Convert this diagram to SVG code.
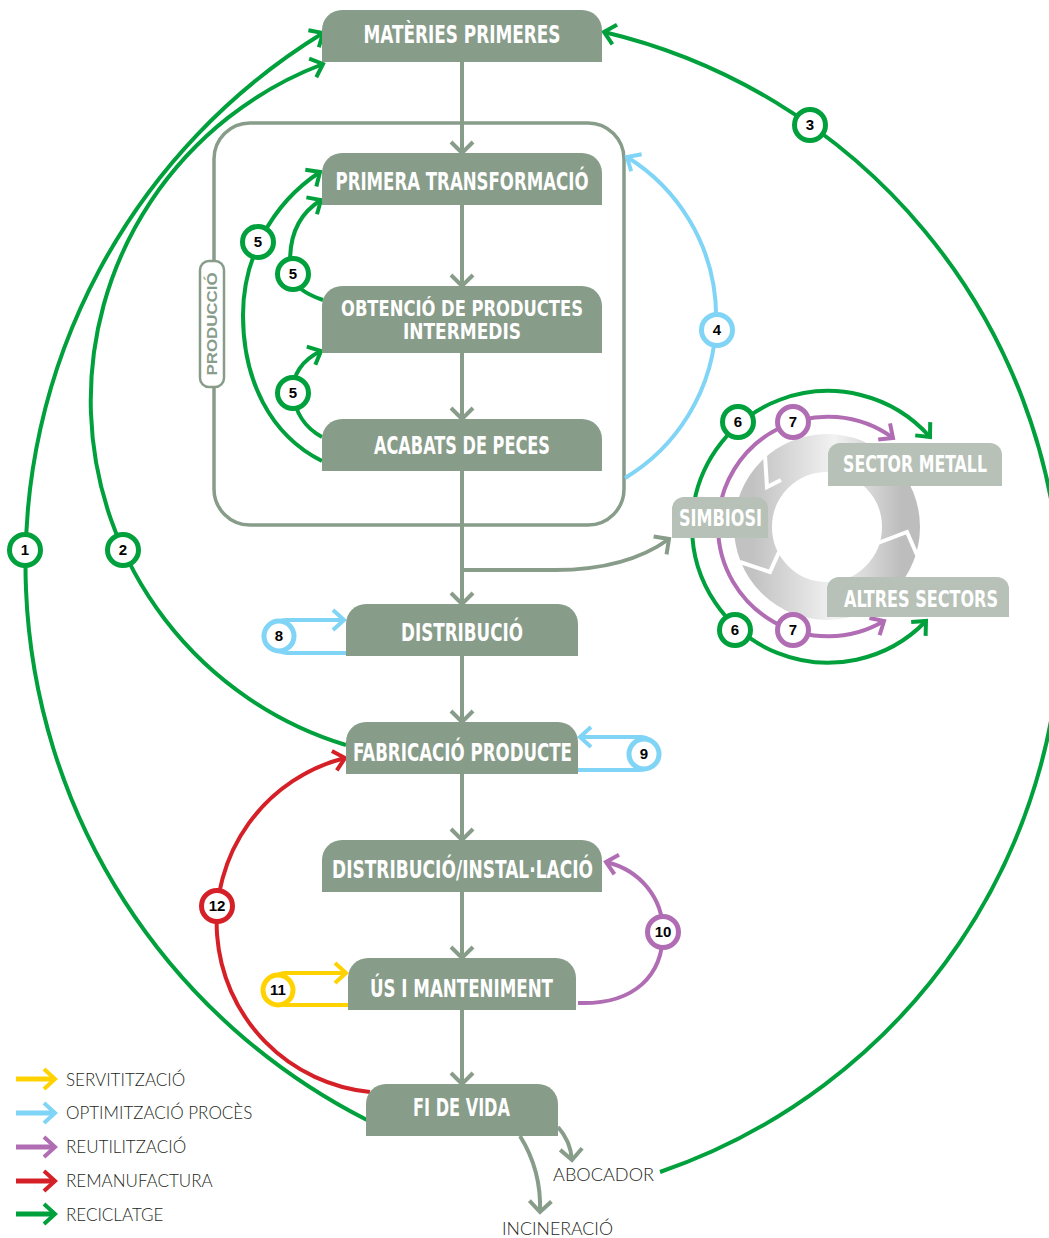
<svg xmlns="http://www.w3.org/2000/svg" width="1049" height="1238" viewBox="0 0 1049 1238">
<style>
.node{fill:#889c8a}
.lnode{fill:#b7c1b7}
.nt{fill:#fff;font-family:"Liberation Sans Narrow","DejaVu Sans Condensed","Liberation Sans",sans-serif;font-weight:bold;font-size:25px;text-anchor:middle}
.lt{font-size:23px}
.st{font-size:21px}
.flow{fill:none;stroke:#889c8a;stroke-width:4}
.g{fill:none;stroke:#00a03c;stroke-width:4}
.b{fill:none;stroke:#80d4f6;stroke-width:4}
.p{fill:none;stroke:#b06db3;stroke-width:4}
.r{fill:none;stroke:#d52027;stroke-width:4}
.y{fill:none;stroke:#ffd200;stroke-width:4}
.bd{fill:#fff;stroke-width:5}
.bn{font-family:"Liberation Sans",Arial,sans-serif;font-weight:bold;font-size:15px;fill:#000;text-anchor:middle}
.tx{font-family:Lato,"Liberation Sans",sans-serif;font-weight:300;font-size:17px;fill:#231f20}
</style>
<defs>
<marker id="mf" viewBox="-15 -15 30 30" markerWidth="30" markerHeight="30" refX="0" refY="0" orient="auto" markerUnits="userSpaceOnUse"><path d="M-11,-11 L0,0 L-11,11" fill="none" stroke="#889c8a" stroke-width="4"/></marker>
<marker id="mg" viewBox="-15 -15 30 30" markerWidth="30" markerHeight="30" refX="0" refY="0" orient="auto" markerUnits="userSpaceOnUse"><path d="M-11,-10 L0,0 L-11,10" fill="none" stroke="#00a03c" stroke-width="4"/></marker>
<marker id="mb" viewBox="-15 -15 30 30" markerWidth="30" markerHeight="30" refX="0" refY="0" orient="auto" markerUnits="userSpaceOnUse"><path d="M-11,-10 L0,0 L-11,10" fill="none" stroke="#80d4f6" stroke-width="4"/></marker>
<marker id="mp" viewBox="-15 -15 30 30" markerWidth="30" markerHeight="30" refX="0" refY="0" orient="auto" markerUnits="userSpaceOnUse"><path d="M-11,-10 L0,0 L-11,10" fill="none" stroke="#b06db3" stroke-width="4"/></marker>
<marker id="mr" viewBox="-15 -15 30 30" markerWidth="30" markerHeight="30" refX="0" refY="0" orient="auto" markerUnits="userSpaceOnUse"><path d="M-11,-10 L0,0 L-11,10" fill="none" stroke="#d52027" stroke-width="4"/></marker>
<marker id="my" viewBox="-15 -15 30 30" markerWidth="30" markerHeight="30" refX="0" refY="0" orient="auto" markerUnits="userSpaceOnUse"><path d="M-11,-10 L0,0 L-11,10" fill="none" stroke="#ffd200" stroke-width="4"/></marker>
<linearGradient id="ring" x1="0" y1="0" x2="1" y2="0">
<stop offset="0" stop-color="#c2c2c2"/><stop offset="0.55" stop-color="#f2f2f2"/><stop offset="1" stop-color="#bdbdbd"/>
</linearGradient>
</defs>

<g id="produccio">
<rect x="214" y="123" width="410" height="402" rx="36" fill="none" stroke="#889c8a" stroke-width="3.5"/>
</g>

<g id="ring-cycle">
<circle cx="827" cy="527" r="74" fill="none" stroke="url(#ring)" stroke-width="38"/>
<polyline points="765,455 767,487 781,480" fill="none" stroke="#fff" stroke-width="4"/>
<polyline points="740,562 770,572 779,552" fill="none" stroke="#fff" stroke-width="4"/>
<polyline points="878,543 907,532 917,555" fill="none" stroke="#fff" stroke-width="4"/>
</g>

<g id="connectors">
<path class="flow" d="M462,62 V153" marker-end="url(#mf)"/>
<path class="flow" d="M462,205 V286" marker-end="url(#mf)"/>
<path class="flow" d="M462,353 V419" marker-end="url(#mf)"/>
<path class="flow" d="M462,471 V604" marker-end="url(#mf)"/>
<path class="flow" d="M462,656 V722" marker-end="url(#mf)"/>
<path class="flow" d="M462,774 V840" marker-end="url(#mf)"/>
<path class="flow" d="M462,892 V958" marker-end="url(#mf)"/>
<path class="flow" d="M462,1010 V1084" marker-end="url(#mf)"/>
<path class="flow" d="M462,570 H555 C600,570 640,560 669,539" marker-end="url(#mf)"/>
<path class="flow" d="M520,1136 C535,1160 541,1185 540,1212" marker-end="url(#mf)"/>
<path class="flow" d="M558,1127 C566,1136 571,1147 572,1160" marker-end="url(#mf)"/>
<path class="g" d="M367,1120 A623,623 0 0 1 323,33" marker-end="url(#mg)"/>
<path class="g" d="M346,745 A360,360 0 0 1 323,64" marker-end="url(#mg)"/>
<path class="g" d="M660,1172 A594,594 0 0 0 604,32" marker-end="url(#mg)"/>
<path class="g" d="M322,461 C270,435 243,380 243,315 C243,260 270,205 320,172" marker-end="url(#mg)"/>
<path class="g" d="M323,300 C305,294 293,285 291,274 C287,240 297,215 321,200" marker-end="url(#mg)"/>
<path class="g" d="M322,437 C305,428 295,412 293,393 C292,375 302,360 321,351" marker-end="url(#mg)"/>
<path class="b" d="M625,478 A188,188 0 0 0 627,157" marker-end="url(#mb)"/>
<path class="g" d="M692,527 A136,136 0 0 1 930,437" marker-end="url(#mg)"/>
<path class="g" d="M692,527 A136,136 0 0 0 926,621" marker-end="url(#mg)"/>
<path class="p" d="M718,527 A110,110 0 0 1 893,438" marker-end="url(#mp)"/>
<path class="p" d="M718,527 A110,110 0 0 0 884,621" marker-end="url(#mp)"/>
<path class="b" d="M346,653 H287 A16.5,16.5 0 0 1 287,620 H344" marker-end="url(#mb)"/>
<path class="b" d="M578,770 H640 A16.5,16.5 0 0 0 640,737 H580" marker-end="url(#mb)"/>
<path class="y" d="M348,1005 H286 A16,16 0 0 1 286,973 H346" marker-end="url(#my)"/>
<path class="p" d="M578,1003 C635,1005 663,975 663,932 C663,898 640,870 606,862" marker-end="url(#mp)"/>
<path class="r" d="M370,1092 A170,170 0 0 1 345,758" marker-end="url(#mr)"/>
</g>

<g id="n-materies"><path class="node" d="M322,62 V30 A20,20 0 0 1 342,10 H582 A20,20 0 0 1 602,30 V62 Z"/><text class="nt" x="462" y="43" textLength="197" lengthAdjust="spacingAndGlyphs">MATÈRIES PRIMERES</text></g>
<g id="n-primera"><path class="node" d="M322,205 V173 A20,20 0 0 1 342,153 H582 A20,20 0 0 1 602,173 V205 Z"/><text class="nt" x="462" y="190" textLength="253" lengthAdjust="spacingAndGlyphs">PRIMERA TRANSFORMACIÓ</text></g>
<g id="n-obtencio"><path class="node" d="M322,353 V306 A20,20 0 0 1 342,286 H582 A20,20 0 0 1 602,306 V353 Z"/><text class="nt st" x="462" y="316" textLength="242" lengthAdjust="spacingAndGlyphs">OBTENCIÓ DE PRODUCTES</text><text class="nt st" x="462" y="339" textLength="118" lengthAdjust="spacingAndGlyphs">INTERMEDIS</text></g>
<g id="n-acabats"><path class="node" d="M322,471 V439 A20,20 0 0 1 342,419 H582 A20,20 0 0 1 602,439 V471 Z"/><text class="nt" x="462" y="454" textLength="176" lengthAdjust="spacingAndGlyphs">ACABATS DE PECES</text></g>
<g id="n-distribucio"><path class="node" d="M346,656 V624 A20,20 0 0 1 366,604 H558 A20,20 0 0 1 578,624 V656 Z"/><text class="nt" x="462" y="641" textLength="122" lengthAdjust="spacingAndGlyphs">DISTRIBUCIÓ</text></g>
<g id="n-fabricacio"><path class="node" d="M346,774 V742 A20,20 0 0 1 366,722 H558 A20,20 0 0 1 578,742 V774 Z"/><text class="nt" x="462.5" y="761" textLength="219" lengthAdjust="spacingAndGlyphs">FABRICACIÓ PRODUCTE</text></g>
<g id="n-instal"><path class="node" d="M322,892 V860 A20,20 0 0 1 342,840 H582 A20,20 0 0 1 602,860 V892 Z"/><text class="nt" x="462.5" y="878" textLength="261" lengthAdjust="spacingAndGlyphs">DISTRIBUCIÓ/INSTAL·LACIÓ</text></g>
<g id="n-us"><path class="node" d="M348,1010 V978 A20,20 0 0 1 368,958 H556 A20,20 0 0 1 576,978 V1010 Z"/><text class="nt" x="461.5" y="997" textLength="183" lengthAdjust="spacingAndGlyphs">ÚS I MANTENIMENT</text></g>
<g id="n-fivida"><path class="node" d="M366,1136 V1104 A20,20 0 0 1 386,1084 H538 A20,20 0 0 1 558,1104 V1136 Z"/><text class="nt" x="461.5" y="1116" textLength="97" lengthAdjust="spacingAndGlyphs">FI DE VIDA</text></g>
<g id="n-simbiosi"><path class="lnode" d="M672,538 V509 A12,12 0 0 1 684,497 H756 A12,12 0 0 1 768,509 V538 Z"/><text class="nt lt" x="720.5" y="526" textLength="83" lengthAdjust="spacingAndGlyphs">SIMBIOSI</text></g>
<g id="n-metall"><path class="lnode" d="M828,486 V455 A12,12 0 0 1 840,443 H990 A12,12 0 0 1 1002,455 V486 Z"/><text class="nt lt" x="915" y="472" textLength="144" lengthAdjust="spacingAndGlyphs">SECTOR METALL</text></g>
<g id="n-altres"><path class="lnode" d="M827,617 V589 A12,12 0 0 1 839,577 H997 A12,12 0 0 1 1009,589 V617 Z"/><text class="nt lt" x="921" y="607" textLength="154" lengthAdjust="spacingAndGlyphs">ALTRES SECTORS</text></g>
<g id="n-produccio-label"><rect x="200" y="261" width="24" height="126" rx="9" fill="#fff" stroke="#889c8a" stroke-width="2.5"/><text x="0" y="0" transform="translate(217,324) rotate(-90)" font-family="'Liberation Sans',Arial,sans-serif" font-weight="bold" font-size="14" fill="#889c8a" text-anchor="middle" textLength="103" lengthAdjust="spacingAndGlyphs">PRODUCCIÓ</text></g>
<g id="n-abocador"><text class="tx" x="553" y="1181" textLength="101" lengthAdjust="spacingAndGlyphs">ABOCADOR</text></g>
<g id="n-incineracio"><text class="tx" x="502" y="1235" textLength="111" lengthAdjust="spacingAndGlyphs">INCINERACIÓ</text></g>

<g id="badges">
<circle class="bd" cx="25" cy="550" r="15.5" stroke="#00a03c"/><text class="bn" x="25" y="555">1</text>
<circle class="bd" cx="123" cy="550" r="15.5" stroke="#00a03c"/><text class="bn" x="123" y="555">2</text>
<circle class="bd" cx="810" cy="125" r="15.5" stroke="#00a03c"/><text class="bn" x="810" y="130">3</text>
<circle class="bd" cx="717" cy="330" r="15.5" stroke="#80d4f6"/><text class="bn" x="717" y="335">4</text>
<circle class="bd" cx="258" cy="242" r="15.5" stroke="#00a03c"/><text class="bn" x="258" y="247">5</text>
<circle class="bd" cx="293" cy="274" r="15.5" stroke="#00a03c"/><text class="bn" x="293" y="279">5</text>
<circle class="bd" cx="293" cy="393" r="15.5" stroke="#00a03c"/><text class="bn" x="293" y="398">5</text>
<circle class="bd" cx="738" cy="422" r="15.5" stroke="#00a03c"/><text class="bn" x="738" y="427">6</text>
<circle class="bd" cx="735" cy="630" r="15.5" stroke="#00a03c"/><text class="bn" x="735" y="635">6</text>
<circle class="bd" cx="793" cy="422" r="15.5" stroke="#b06db3"/><text class="bn" x="793" y="427">7</text>
<circle class="bd" cx="793" cy="630" r="15.5" stroke="#b06db3"/><text class="bn" x="793" y="635">7</text>
<circle class="bd" cx="279" cy="636" r="15" stroke="#80d4f6"/><text class="bn" x="279" y="641">8</text>
<circle class="bd" cx="644" cy="754" r="15" stroke="#80d4f6"/><text class="bn" x="644" y="759">9</text>
<circle class="bd" cx="663" cy="932" r="15.5" stroke="#b06db3"/><text class="bn" x="663" y="937">10</text>
<circle class="bd" cx="278" cy="990" r="15" stroke="#ffd200"/><text class="bn" x="278" y="995">11</text>
<circle class="bd" cx="217" cy="906" r="15.5" stroke="#d52027"/><text class="bn" x="217" y="911">12</text>
</g>

<g id="legend">
<path d="M16,1079 H55" fill="none" stroke="#ffd200" stroke-width="5" marker-end="url(#my)"/>
<path d="M16,1113 H55" fill="none" stroke="#80d4f6" stroke-width="5" marker-end="url(#mb)"/>
<path d="M16,1147 H55" fill="none" stroke="#b06db3" stroke-width="5" marker-end="url(#mp)"/>
<path d="M16,1181 H55" fill="none" stroke="#d52027" stroke-width="5" marker-end="url(#mr)"/>
<path d="M16,1214 H55" fill="none" stroke="#00a03c" stroke-width="5" marker-end="url(#mg)"/>
<text class="tx" x="66" y="1086">SERVITITZACIÓ</text>
<text class="tx" x="66" y="1119">OPTIMITZACIÓ PROCÈS</text>
<text class="tx" x="66" y="1153">REUTILITZACIÓ</text>
<text class="tx" x="66" y="1187">REMANUFACTURA</text>
<text class="tx" x="66" y="1221">RECICLATGE</text>
</g>
</svg>
